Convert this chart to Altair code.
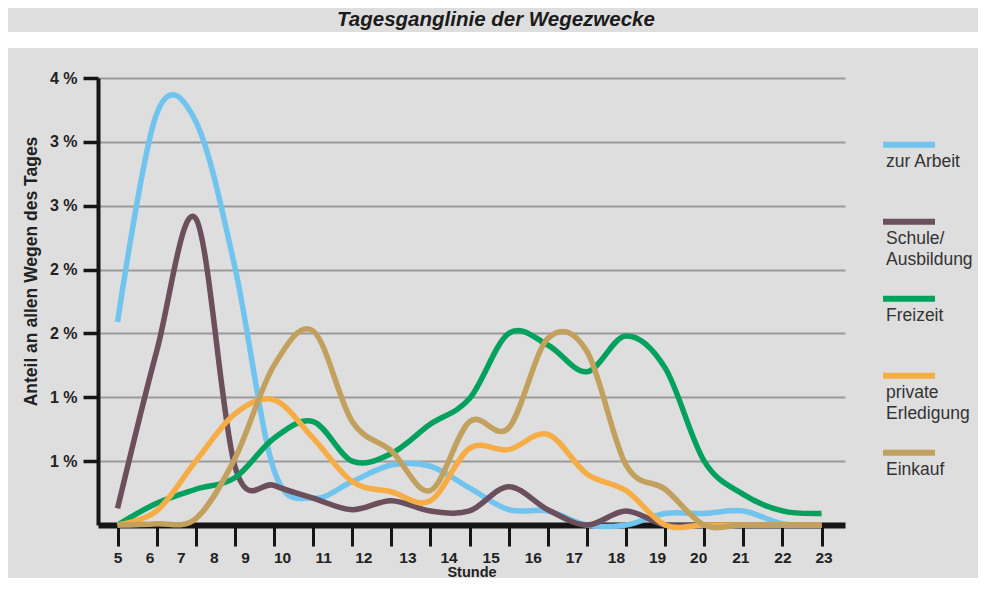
import json
import altair as alt
import pandas as pd

# ---- data ----
hours = list(range(5, 24))
series_names = ["zur Arbeit", "Schule/Ausbildung", "Freizeit", "private Erledigung", "Einkauf"]
series_colors = ["#70c4ee", "#6b4f5c", "#02a15e", "#f6ad46", "#c2a15f"]

zur_arbeit = [1.59, 3.22, 3.16, 2.02, 0.43, 0.21, 0.34, 0.47, 0.46, 0.29, 0.12, 0.11, 0.0, 0.0, 0.09, 0.09, 0.11, 0.01, 0.0]
schule = [0.13, 1.36, 2.40, 0.46, 0.31, 0.21, 0.12, 0.19, 0.11, 0.11, 0.30, 0.12, 0.0, 0.11, 0.0, 0.0, 0.0, 0.0, 0.0]
freizeit = [0.0, 0.17, 0.28, 0.37, 0.68, 0.81, 0.50, 0.56, 0.79, 0.99, 1.50, 1.41, 1.20, 1.48, 1.23, 0.50, 0.24, 0.11, 0.09]
private = [0.0, 0.11, 0.50, 0.87, 0.98, 0.68, 0.34, 0.26, 0.19, 0.60, 0.59, 0.71, 0.40, 0.27, 0.0, 0.0, 0.0, 0.0, 0.0]
einkauf = [0.0, 0.01, 0.05, 0.52, 1.25, 1.52, 0.81, 0.58, 0.27, 0.81, 0.76, 1.46, 1.36, 0.47, 0.28, 0.0, 0.0, 0.0, 0.0]

legend_lines = [["zur Arbeit", ""], ["Schule/", "Ausbildung"], ["Freizeit", ""],
                ["private", "Erledigung"], ["Einkauf", ""]]

y_ticks = [0.5, 1.0, 1.5, 2.0, 2.5, 3.0, 3.5]
x_label_shift = [0, -7, -15, -21, -29, -31, -29, -28, -23, -21, -18, -15, -13, -10, -8, -6, -3, 0, 2]

chart_title = "Tagesganglinie der Wegezwecke"
x_title = "Stunde"
y_title = "Anteil an allen Wegen des Tages"

# ---- build table ----
rows = []
for name, vals in zip(series_names, [zur_arbeit, schule, freizeit, private, einkauf]):
    for h, v in zip(hours, vals):
        rows.append({"Stunde": h, "Anteil": v, "Zweck": name})
df = pd.DataFrame(rows)

FONT = "Liberation Sans, Arial, sans-serif"

legend_expr = ""
for name, lines in zip(series_names, legend_lines):
    legend_expr += f"datum.label == '{name}' ? {json.dumps(lines)} : "
legend_expr += "datum.label"

shift_expr = f"{json.dumps(x_label_shift)}[datum.value - {hours[0]}]"

W, H = 747, 447
PAD = {"left": 90, "top": 70, "right": 133, "bottom": 53}

lines = alt.Chart(df).mark_line(interpolate="cardinal", strokeWidth=5.5).encode(
    x=alt.X(
        "Stunde:Q",
        scale=alt.Scale(domain=[4.5, 23.6], nice=False, zero=False),
        axis=alt.Axis(
            values=hours, grid=False, title=x_title,
            tickSize=21, tickWidth=3, tickColor="#151515",
            domainColor="#151515", domainWidth=6,
            labelFont=FONT, labelFontWeight="bold", labelFontSize=15.5, labelColor="#222",
            labelPadding=4, labelFlush=False, labelOverlap=False,
            labelOffset=alt.ExprRef(expr=shift_expr),
            titleFont=FONT, titleFontWeight="bold", titleFontSize=14.5, titleColor="#222",
            titleY=51, titleBaseline="alphabetic",
        ),
    ),
    y=alt.Y(
        "Anteil:Q",
        scale=alt.Scale(domain=[0, 3.5], nice=False),
        axis=alt.Axis(
            values=y_ticks, labelExpr="round(datum.value) + ' %'",
            tickSize=15, tickWidth=3.5, tickColor="#151515",
            domainColor="#151515", domainWidth=4,
            gridColor="#9a9a9a", gridWidth=2,
            labelFont=FONT, labelFontWeight="bold", labelFontSize=16, labelColor="#222",
            labelPadding=6,
            title=y_title, titleFont=FONT, titleFontWeight="bold", titleFontSize=17.5,
            titleColor="#222", titleAngle=270, titleX=-67, titleY=193,
            titleAlign="center", titleBaseline="middle",
        ),
    ),
    color=alt.Color(
        "Zweck:N",
        scale=alt.Scale(domain=series_names, range=series_colors),
        legend=alt.Legend(
            title=None, orient="none", legendX=782, legendY=45.5, direction="vertical",
            symbolType="M-1,-0.3L1,-0.3", symbolSize=2704, symbolStrokeWidth=6,
            labelFont=FONT, labelFontSize=17.5, labelColor="#333",
            labelBaseline="top", labelOffset=alt.ExprRef(expr="-52"),
            labelExpr=legend_expr, rowPadding=9, padding=0, labelLimit=0,
        ),
    ),
)

strip = alt.Chart(pd.DataFrame({"band": [0]})).mark_rect(color="white").encode(
    x=alt.value(-PAD["left"]), x2=alt.value(W + PAD["right"]), y=alt.value(-46), y2=alt.value(-30)
)

title = alt.Chart(pd.DataFrame({"t": [chart_title]})).mark_text(
    font=FONT, fontSize=20.5, fontWeight="bold", fontStyle="italic", color="#1b1b1b",
    align="center", baseline="alphabetic",
).encode(text="t:N", x=alt.value(398), y=alt.value(-52))

chart = alt.layer(strip, title, lines).properties(
    width=W, height=H,
    autosize=alt.AutoSizeParams(type="none"),
    padding=PAD,
).configure(
    background="#dedede",
    style={"guide-label": {"lineHeight": 21}},
).configure_view(stroke=None)

chart.save("out.html", embed_options={"renderer": "svg", "actions": False})
